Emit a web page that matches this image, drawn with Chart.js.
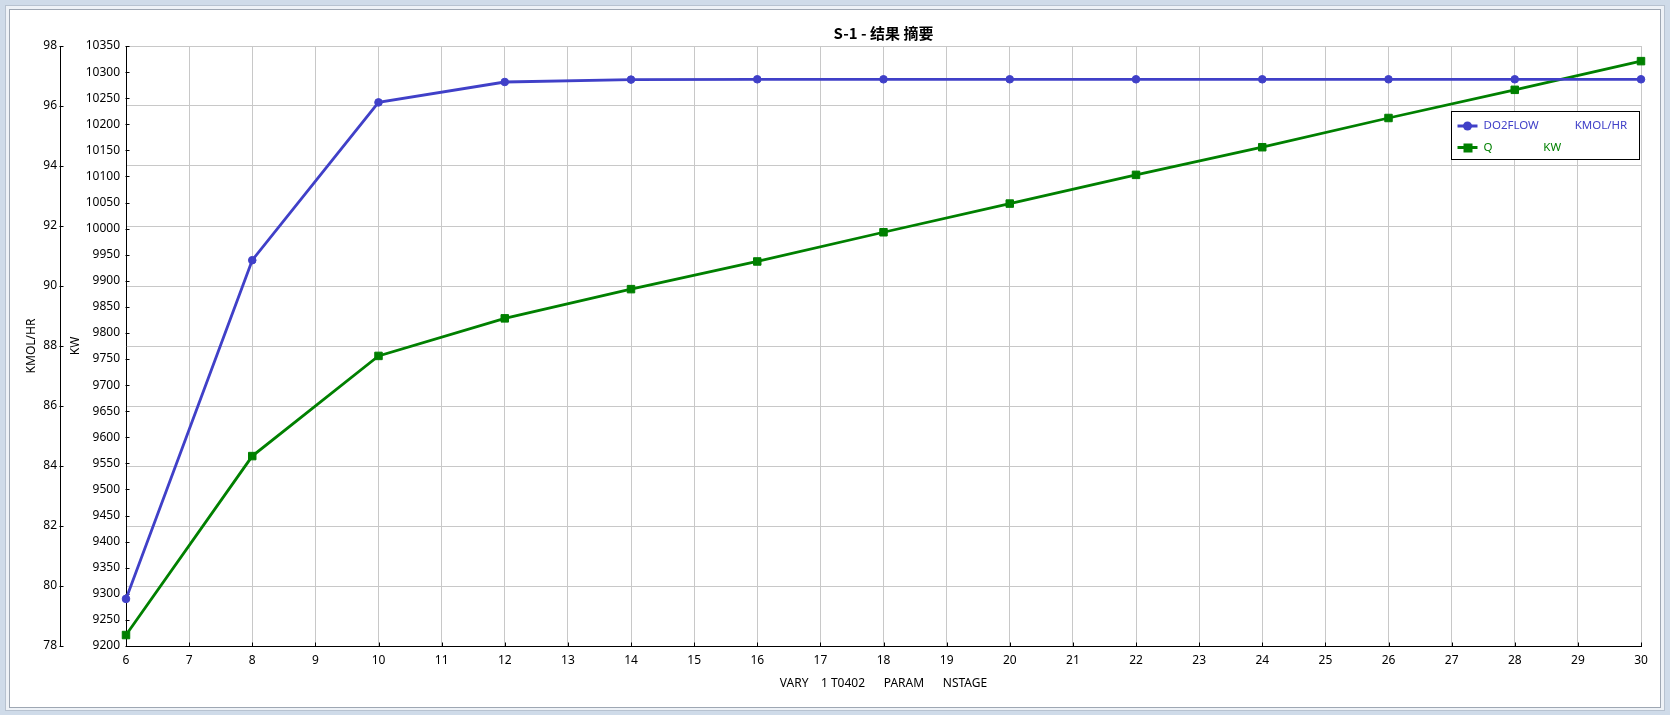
<!DOCTYPE html>
<html>
<head>
<meta charset="utf-8">
<title>S-1 - 结果 摘要</title>
<script src="https://cdn.jsdelivr.net/npm/chart.js@4/dist/chart.umd.min.js"></script>
<style>
    body { margin: 0; background: #cfdbe9; }
    #ring { position: absolute; left: 5px; top: 5px; width: 1658px; height: 704px; border: 1px solid #b7c2d0; background: #eef2f7; }
    #frame { position: absolute; left: 9px; top: 9px; width: 1650px; height: 697px; border: 1px solid #9ea7b3; background: #fff; }
    #chart { position: absolute; left: 0; top: 0; }
</style>
</head>
<body>
<div id="ring"></div>
<div id="frame"></div>
<canvas id="chart" width="1670" height="715"></canvas>
<script>
// values
const stages = [6, 8, 10, 12, 14, 16, 18, 20, 22, 24, 26, 28, 30];
const do2flow = [79.57, 90.86, 96.12, 96.80, 96.88, 96.89, 96.89, 96.89, 96.89, 96.89, 96.89, 96.89, 96.89];
const qDuty = [9221, 9564, 9756, 9828, 9884, 9937, 9993, 10048, 10103, 10156, 10212, 10266, 10321];
const seriesLabels = ['DO2FLOW            KMOL/HR', 'Q                 KW'];
const chartTitle = 'S-1 - 结果 摘要';
const xTitle = 'VARY    1 T0402      PARAM      NSTAGE';

const blue = '#4040c8';
const green = '#008000';
const gridColor = '#c8c8c8';

Chart.defaults.font.family = '"Noto Sans", "Open Sans", sans-serif';
Chart.defaults.font.size = 12;
Chart.defaults.color = '#000';

function toPoints(ys) {
    return stages.map((s, i) => ({ x: s, y: ys[i] }));
}

function plainNumber(v) {
    return String(v);
}

// title centred over the plot
const titlePlugin = {
    id: 'plotTitle',
    afterDraw(chart) {
        const ctx = chart.ctx;
        const a = chart.chartArea;
        ctx.save();
        ctx.font = 'bold 15px "Noto Sans CJK SC", "Noto Sans", sans-serif';
        ctx.fillStyle = '#000';
        ctx.textAlign = 'center';
        ctx.textBaseline = 'middle';
        ctx.fillText(chartTitle, (a.left + a.right) / 2, 33);
        ctx.restore();
    }
};

// small tick marks pointing into the plot
const innerTicks = {
    id: 'innerTicks',
    beforeDatasetsDraw(chart) {
        const ctx = chart.ctx;
        ctx.save();
        ctx.strokeStyle = '#000';
        ctx.lineWidth = 1;
        ctx.beginPath();
        ['yL', 'yR'].forEach(id => {
            const sc = chart.scales[id];
            const x = Math.round(sc.right) - 0.5;
            sc.ticks.forEach(t => {
                const y = Math.round(sc.getPixelForValue(t.value)) + 0.5;
                ctx.moveTo(x, y);
                ctx.lineTo(x + 4, y);
            });
        });
        const sx = chart.scales.x;
        const yb = Math.round(sx.top) + 0.5;
        sx.ticks.forEach(t => {
            const x = Math.round(sx.getPixelForValue(t.value)) + 0.5;
            ctx.moveTo(x, yb);
            ctx.lineTo(x, yb - 4);
        });
        ctx.stroke();
        ctx.restore();
    }
};

// boxed legend inside the top right of the plot
const boxLegend = {
    id: 'boxLegend',
    afterDraw(chart) {
        const ctx = chart.ctx;
        const a = chart.chartArea;
        const w = 188, h = 48;
        const bx = Math.round(a.right - w - 2) + 0.5;
        const by = Math.round(a.top + 65) + 0.5;
        ctx.save();
        ctx.fillStyle = '#fff';
        ctx.fillRect(bx, by, w, h);
        ctx.strokeStyle = '#000';
        ctx.lineWidth = 1;
        ctx.strokeRect(bx, by, w, h);
        ctx.font = '11.5px "Noto Sans", sans-serif';
        ctx.textBaseline = 'middle';
        chart.data.datasets.forEach((ds, i) => {
            const y = by + 14.5 + i * 21.5;
            const lx = bx + 6;
            ctx.strokeStyle = ds.borderColor;
            ctx.lineWidth = 3;
            ctx.beginPath();
            ctx.moveTo(lx, y);
            ctx.lineTo(lx + 20, y);
            ctx.stroke();
            ctx.fillStyle = ds.borderColor;
            if (ds.pointStyle === 'rect') {
                ctx.fillRect(lx + 6, y - 4, 9, 9);
            } else {
                ctx.beginPath();
                ctx.arc(lx + 10, y, 4.5, 0, Math.PI * 2);
                ctx.fill();
            }
            ctx.fillText(ds.label, lx + 26, y);
        });
        ctx.restore();
    }
};

const ctx = document.getElementById('chart').getContext('2d');
const chart = new Chart(ctx, {
    type: 'line',
    data: {
        datasets: [{
            label: seriesLabels[0],
            data: toPoints(do2flow),
            yAxisID: 'yL',
            borderColor: blue,
            backgroundColor: blue,
            borderWidth: 2.8,
            pointStyle: 'circle',
            pointRadius: 3.8,
            pointBorderWidth: 1,
            tension: 0,
            clip: false
        }, {
            label: seriesLabels[1],
            data: toPoints(qDuty),
            yAxisID: 'yR',
            borderColor: green,
            backgroundColor: green,
            borderWidth: 2.8,
            pointStyle: 'rect',
            pointRadius: 5.3,
            pointBorderWidth: 1,
            tension: 0,
            clip: false
        }]
    },
    options: {
        responsive: false,
        devicePixelRatio: 1,
        animation: false,
        layout: { padding: { top: 46, left: 10, right: 29, bottom: 19 } },
        plugins: {
            legend: { display: false },
            title: { display: false },
            tooltip: { enabled: false }
        },
        scales: {
            x: {
                type: 'linear',
                min: 6,
                max: 30,
                ticks: { stepSize: 1, padding: 7, color: '#000', callback: plainNumber },
                grid: { color: gridColor, drawTicks: false },
                border: { color: '#000', width: 1 },
                title: { display: true, text: xTitle, color: '#000', padding: { top: 0, bottom: 5 } },
                afterFit(scale) { scale.height = 50; }
            },
            yL: {
                type: 'linear',
                position: 'left',
                weight: 1,
                min: 78,
                max: 98,
                ticks: { stepSize: 2, padding: 3, color: '#000', callback: plainNumber },
                grid: { color: gridColor, drawTicks: false },
                border: { color: '#000', width: 1 },
                title: { display: true, text: 'KMOL/HR', color: '#000', padding: { top: 14, bottom: 0 } },
                afterFit(scale) { scale.width = 50; }
            },
            yR: {
                type: 'linear',
                position: 'left',
                weight: 0,
                min: 9200,
                max: 10350,
                ticks: { stepSize: 50, padding: 6, color: '#000', callback: plainNumber },
                grid: { drawOnChartArea: false, drawTicks: false },
                border: { color: '#000', width: 1 },
                title: { display: true, text: 'KW', color: '#000', padding: { top: 8, bottom: 0 } },
                afterFit(scale) { scale.width = 66; }
            }
        }
    },
    plugins: [titlePlugin, innerTicks, boxLegend]
});
</script>
</body>
</html>
